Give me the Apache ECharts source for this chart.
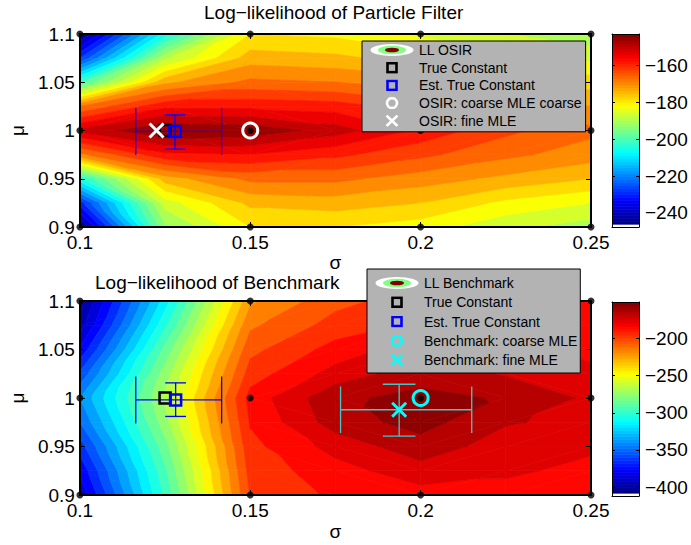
<!DOCTYPE html>
<html><head><meta charset="utf-8">
<script src="https://cdn.jsdelivr.net/npm/echarts@6/dist/echarts.min.js"></script>
<style>html,body{margin:0;padding:0;background:#fff}#c{width:691px;height:545px}</style>
</head><body><div id="c"></div><script>
// ---------------- data ----------------
const sigmaGrid = [0.1, 0.125, 0.15, 0.175, 0.2, 0.225, 0.25];
const muGrid = [1.1, 1.075, 1.05, 1.025, 1.0, 0.975, 0.95, 0.925, 0.9];
// Log-likelihood of Particle Filter (rows: muGrid, cols: sigmaGrid)
const llOSIR = [
  [-245, -206, -180, -181, -185, -188, -191],
  [-228, -189, -174, -175, -178, -182, -185],
  [-201, -173, -167, -168, -170, -175, -178],
  [-168, -157, -157, -158, -162, -168, -172],
  [-151, -144, -145, -150, -157, -163, -167],
  [-169, -157, -156, -159, -163, -167, -170],
  [-205, -174, -167, -167, -170, -173, -176],
  [-230, -186, -175, -174, -176, -181, -184],
  [-245, -193, -180, -180, -182, -187, -190]
];
// Log-likelihood of Benchmark
const llBench = [
  [-405, -315, -222, -203, -195, -188, -188],
  [-395, -302, -212, -196, -188, -184, -186],
  [-378, -287, -203, -186, -174, -178, -183],
  [-358, -275, -195, -176, -164, -171, -177],
  [-340, -268, -186, -162, -157, -161, -172],
  [-350, -274, -189, -165, -156, -169, -173],
  [-365, -284, -193, -176, -164, -175, -178],
  [-378, -292, -196, -184, -174, -178, -183],
  [-388, -298, -199, -188, -184, -184, -187]
];
const coarseSigma = [0.1, 0.15, 0.2, 0.25];
const coarseMu = [0.9, 1.0, 1.1];
const sigmaTicks = [0.1, 0.15, 0.2, 0.25];
const muTicks = [0.9, 0.95, 1, 1.05, 1.1];
const cbTicksTop = [-240, -220, -200, -180, -160];
const cbTicksBot = [-400, -350, -300, -250, -200];
const colorRangeTop = [-246, -143];
const colorRangeBot = [-408, -151];
const cbAxisTop = [-247.6, -143];
const cbAxisBot = [-412, -151];
const trueConstant = [0.125, 1.0];
const estTop = [0.1279, 0.999];
const estTopSigmaErr = [0.1164, 0.1416];
const estTopMuErr = [0.9807, 1.0162];
const osirCoarse = [0.15, 1.0];
const osirFine = [0.1225, 1.0];
const estBot = [0.1281, 0.998];
const estBotSigmaErr = [0.1164, 0.1416];
const estBotMuErr = [0.981, 1.0156];
const benchCoarse = [0.2, 1.0];
const benchFine = [0.1937, 0.9879];
const benchSigmaErr = [0.1765, 0.215];
const benchMuErr = [0.9606, 1.0142];

// ---------------- helpers ----------------
const FONT = 'Liberation Sans, Arial, Helvetica, sans-serif';
function jet(t) {
  t = Math.max(0, Math.min(1, t));
  const f = x => Math.round(255 * Math.max(0, Math.min(1, 1.5 - Math.abs(4 * t - x))));
  return 'rgb(' + f(3) + ',' + f(2) + ',' + f(1) + ')';
}
function clipPoly(poly, level, sign) {
  const out = [], n = poly.length;
  for (let i = 0; i < n; i++) {
    const A = poly[i], B = poly[(i + 1) % n];
    const ia = sign * (A.v - level) >= 0, ib = sign * (B.v - level) >= 0;
    if (ia) out.push(A);
    if (ia !== ib) {
      const t = (level - A.v) / (B.v - A.v);
      out.push({x: A.x + t * (B.x - A.x), y: A.y + t * (B.y - A.y), v: level});
    }
  }
  return out;
}
function contourSeries(name, Z, rng, step, xi, yi) {
  const levels = [];
  for (let v = Math.floor(rng[0] / step) * step - step; v <= rng[1] + step; v += step) levels.push(v);
  const cells = [];
  for (let r = 0; r < muGrid.length - 1; r++)
    for (let c = 0; c < sigmaGrid.length - 1; c++) cells.push([c, r]);
  return {
    type: 'custom', name: name, xAxisIndex: xi, yAxisIndex: yi, data: cells, clip: true, silent: true, z: 1,
    encode: {x: -1, y: -1},
    renderItem: function (params, api) {
      const c = api.value(0), r = api.value(1);
      const P = (cc, rr) => { const p = api.coord([sigmaGrid[cc], muGrid[rr]]); return {x: p[0], y: p[1], v: Z[rr][cc]}; };
      const a = P(c, r), b = P(c + 1, r), d = P(c + 1, r + 1), e = P(c, r + 1);
      let tris;
      if (Math.abs(a.v - d.v) <= Math.abs(b.v - e.v)) tris = [[a, b, d], [a, d, e]];
      else tris = [[a, b, e], [b, d, e]];
      const children = [];
      for (const tri of tris) {
        const vs = tri.map(p => p.v);
        const vmin = Math.min.apply(null, vs), vmax = Math.max.apply(null, vs);
        for (let k = 0; k < levels.length - 1; k++) {
          const lo = levels[k], hi = levels[k + 1];
          if (hi < vmin || lo > vmax) continue;
          let poly = clipPoly(tri, lo, 1);
          if (poly.length < 3) continue;
          poly = clipPoly(poly, hi, -1);
          if (poly.length < 3) continue;
          const col = jet(((lo + hi) / 2 - rng[0]) / (rng[1] - rng[0]));
          children.push({type: 'polygon', shape: {points: poly.map(p => [p.x, p.y])},
            style: {fill: col, stroke: col, lineWidth: 0.7}});
        }
      }
      return {type: 'group', children: children};
    }
  };
}
function colorbarSeries(rng, xi, yi) {
  const N = 64, steps = [];
  for (let k = 0; k < N; k++) steps.push([k]);
  return {
    type: 'custom', xAxisIndex: xi, yAxisIndex: yi, data: steps, silent: true, z: 1,
    encode: {x: -1, y: -1},
    renderItem: function (params, api) {
      const k = api.value(0);
      const lo = rng[0] + (rng[1] - rng[0]) * k / N, hi = rng[0] + (rng[1] - rng[0]) * (k + 1) / N;
      const p0 = api.coord([0, lo]), p1 = api.coord([1, hi]);
      const col = jet((k + 0.5) / N);
      return {type: 'rect', shape: {x: p0[0], y: p1[1], width: p1[0] - p0[0], height: p0[1] - p1[1] + 0.6},
        style: {fill: col}};
    }
  };
}
function errSeries(pt, sErr, mErr, color, capH, capW, xi, yi) {
  return {
    type: 'custom', xAxisIndex: xi, yAxisIndex: yi, silent: true, clip: false, z: 3,
    encode: {x: -1, y: -1},
    data: [[pt[0], pt[1], sErr[0], sErr[1], mErr[0], mErr[1]]],
    renderItem: function (params, api) {
      const x = api.value(0), y = api.value(1);
      const L = api.coord([api.value(2), y]), R = api.coord([api.value(3), y]);
      const B = api.coord([x, api.value(4)]), T = api.coord([x, api.value(5)]);
      const line = (x1, y1, x2, y2) => ({type: 'line', shape: {x1: x1, y1: y1, x2: x2, y2: y2},
        style: {stroke: color, lineWidth: 1.3}});
      return {type: 'group', children: [
        line(L[0], L[1], R[0], R[1]),
        line(L[0], L[1] - capH, L[0], L[1] + capH),
        line(R[0], R[1] - capH, R[0], R[1] + capH),
        line(T[0], T[1], B[0], B[1]),
        line(T[0] - capW, T[1], T[0] + capW, T[1]),
        line(B[0] - capW, B[1], B[0] + capW, B[1])
      ]};
    }
  };
}
function marker(name, pt, symbol, size, color, bw, xi, yi) {
  return {type: 'scatter', name: name, xAxisIndex: xi, yAxisIndex: yi, data: [pt], symbol: symbol,
    symbolSize: size, silent: true, clip: false, z: 7,
    itemStyle: {color: 'rgba(0,0,0,0)', borderColor: color, borderWidth: bw, opacity: 1}};
}
function gridDots(xi, yi) {
  const pts = [];
  coarseSigma.forEach(s => coarseMu.forEach(m => pts.push([s, m])));
  return {type: 'scatter', xAxisIndex: xi, yAxisIndex: yi, data: pts, symbol: 'circle', symbolSize: 7,
    silent: true, clip: false, z: 6, itemStyle: {color: '#000'}};
}
const XSYM = 'path://M0,0L10,10M10,0L0,10';
function svgIcon(inner) {
  return 'image://data:image/svg+xml;charset=utf-8,' + encodeURIComponent(
    '<svg xmlns="http://www.w3.org/2000/svg" width="44" height="12" viewBox="0 0 44 12">' + inner + '</svg>');
}
const llIcon = svgIcon(
  '<ellipse cx="22" cy="6" rx="21.5" ry="6" fill="#ffffff"/>' +
  '<ellipse cx="22" cy="6" rx="14" ry="4.2" fill="#80ff80"/>' +
  '<ellipse cx="22" cy="6" rx="7" ry="2.3" fill="#800000"/>');
const sqIcon = c => svgIcon('<rect x="17.5" y="1.5" width="9" height="9" fill="none" stroke="' + c + '" stroke-width="2.6"/>');
const ringIcon = c => svgIcon('<circle cx="22" cy="6" r="5" fill="none" stroke="' + c + '" stroke-width="2.6"/>');
const xIcon = c => svgIcon('<path d="M16.5,0.8L27.5,11.2M27.5,0.8L16.5,11.2" fill="none" stroke="' + c + '" stroke-width="2.6"/>');

function mainX(gi, pos, labels, name, gap) {
  return {type: 'value', gridIndex: gi, min: 0.1, max: 0.25, position: pos, z: 5,
    axisLine: {show: true, onZero: false, lineStyle: {color: '#000', width: 2}},
    axisTick: {show: true, inside: true, length: 5, customValues: sigmaTicks, lineStyle: {color: '#000', width: 1}},
    axisLabel: {show: labels, customValues: sigmaTicks, fontSize: 19, color: '#000', margin: 6, fontFamily: FONT},
    splitLine: {show: false},
    name: name, nameLocation: 'middle', nameGap: gap,
    nameTextStyle: {fontSize: 19, color: '#000', fontFamily: FONT}};
}
function mainY(gi, pos, labels, name) {
  return {type: 'value', gridIndex: gi, min: 0.9, max: 1.1, position: pos, z: 5,
    axisLine: {show: true, onZero: false, lineStyle: {color: '#000', width: 2}},
    axisTick: {show: true, inside: true, length: 5, customValues: muTicks, lineStyle: {color: '#000', width: 1}},
    axisLabel: {show: labels, customValues: muTicks, fontSize: 19, color: '#000', margin: 5, fontFamily: FONT},
    splitLine: {show: false},
    name: name, nameLocation: 'middle', nameGap: 46, nameRotate: 90,
    nameTextStyle: {fontSize: 19, color: '#000', fontFamily: FONT}};
}
function cbX(gi, pos) {
  return {type: 'value', gridIndex: gi, min: 0, max: 1, position: pos, z: 5,
    axisLine: {show: true, onZero: false, lineStyle: {color: '#000', width: 1}},
    axisTick: {show: false}, axisLabel: {show: false}, splitLine: {show: false}};
}
function cbY(gi, pos, labels, rng, ticks) {
  return {type: 'value', gridIndex: gi, min: rng[0], max: rng[1], position: pos, z: 5,
    axisLine: {show: true, onZero: false, lineStyle: {color: '#000', width: 1}},
    axisTick: {show: true, inside: true, length: 3, customValues: ticks, lineStyle: {color: '#000', width: 1}},
    axisLabel: {show: labels, customValues: ticks, fontSize: 19, color: '#000', margin: 6, fontFamily: FONT,
      formatter: v => (v < 0 ? '\u2212' : '') + Math.abs(v)},
    splitLine: {show: false}};
}
function legendBox(left, top, padding, gap, names, icons) {
  return {orient: 'vertical', left: left, top: top, padding: padding, itemGap: gap,
    itemWidth: 44, itemHeight: 12, selectedMode: false, z: 10,
    backgroundColor: '#b3b3b3', borderColor: '#000', borderWidth: 1,
    textStyle: {fontSize: 14, color: '#000', fontFamily: FONT, lineHeight: 14},
    data: names.map((n, i) => ({name: n, icon: icons[i]}))};
}

const option = {
  animation: false,
  backgroundColor: '#fff',
  title: [
    {text: 'Log\u2212likelihood of Particle Filter', left: 204, top: 3, padding: 0,
      textStyle: {fontSize: 19, fontWeight: 'normal', color: '#000', fontFamily: FONT}},
    {text: 'Log\u2212likelihood of Benchmark', left: 95, top: 273, padding: 0,
      textStyle: {fontSize: 19, fontWeight: 'normal', color: '#000', fontFamily: FONT}}
  ],
  grid: [
    {left: 78, top: 34, width: 513, height: 193},
    {left: 78, top: 301, width: 513, height: 194},
    {left: 612, top: 34, width: 27, height: 193},
    {left: 612, top: 302, width: 27, height: 194}
  ],
  xAxis: [
    mainX(0, 'bottom', true, '\u03c3', 8), mainX(0, 'top', false, '', 0),
    mainX(1, 'bottom', true, '\u03c3', 27), mainX(1, 'top', false, '', 0),
    cbX(2, 'bottom'), cbX(2, 'top'), cbX(3, 'bottom'), cbX(3, 'top')
  ],
  yAxis: [
    mainY(0, 'left', true, '\u03bc'), mainY(0, 'right', false, ''),
    mainY(1, 'left', true, '\u03bc'), mainY(1, 'right', false, ''),
    cbY(2, 'left', false, cbAxisTop, cbTicksTop), cbY(2, 'right', true, cbAxisTop, cbTicksTop),
    cbY(3, 'left', false, cbAxisBot, cbTicksBot), cbY(3, 'right', true, cbAxisBot, cbTicksBot)
  ],
  legend: [
    legendBox(362, 41, [2, 4, 4, 8], 3.7,
      ['LL OSIR', 'True Constant', 'Est. True Constant', 'OSIR: coarse MLE coarse', 'OSIR: fine MLE'],
      [llIcon, sqIcon('#000'), sqIcon('#0000ff'), ringIcon('#fff'), xIcon('#fff')]),
    legendBox(367, 269, [7, 3, 6, 8], 5.25,
      ['LL Benchmark', 'True Constant', 'Est. True Constant', 'Benchmark: coarse MLE', 'Benchmark: fine MLE'],
      [llIcon, sqIcon('#000'), sqIcon('#0000ff'), ringIcon('#00ffff'), xIcon('#00ffff')])
  ],
  series: [
    contourSeries('LL OSIR', llOSIR, colorRangeTop, 4, 0, 0),
    gridDots(0, 0),
    errSeries(estTop, estTopSigmaErr, estTopMuErr, '#0000ff', 23.5, 10.4, 0, 0),
    marker('True Constant', trueConstant, 'rect', 11, '#000', 2.5, 0, 0),
    marker('Est. True Constant', estTop, 'rect', 11, '#0000ff', 2.5, 0, 0),
    marker('OSIR: coarse MLE coarse', osirCoarse, 'circle', 15, '#fff', 3, 0, 0),
    marker('OSIR: fine MLE', osirFine, XSYM, 14, '#fff', 3, 0, 0),

    contourSeries('LL Benchmark', llBench, colorRangeBot, 10, 2, 2),
    gridDots(2, 2),
    errSeries(estBot, estBotSigmaErr, estBotMuErr, '#0000ff', 23.5, 10.4, 2, 2),
    errSeries(benchFine, benchSigmaErr, benchMuErr, '#40c8c8', 23.3, 16.3, 2, 2),
    marker('True Constant', trueConstant, 'rect', 11, '#000', 2.5, 2, 2),
    marker('Est. True Constant', estBot, 'rect', 11, '#0000ff', 2.5, 2, 2),
    marker('Benchmark: coarse MLE', benchCoarse, 'circle', 15, '#00ffff', 3, 2, 2),
    marker('Benchmark: fine MLE', benchFine, XSYM, 14, '#00ffff', 3, 2, 2),

    colorbarSeries(colorRangeTop, 4, 5),
    colorbarSeries(colorRangeBot, 6, 7)
  ]
};
const chart = echarts.init(document.getElementById('c'), null, {renderer: 'svg'});
chart.setOption(option);
</script></body></html>
